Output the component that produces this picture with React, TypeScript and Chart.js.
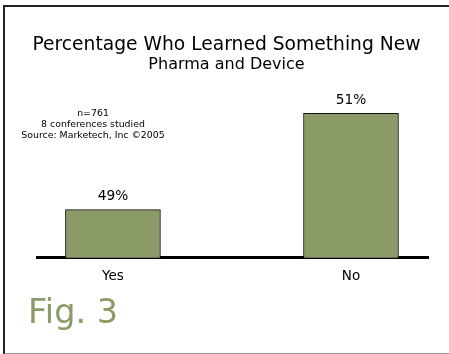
import React, { useEffect, useRef } from "react";
import { Chart, registerables } from "chart.js";

Chart.register(...registerables);

const categories = ["Yes", "No"];
const values = [49, 51];
const titleText = "Percentage Who Learned Something New";
const subtitleText = "Pharma and Device";
const noteLines = ["n=761", "8 conferences studied", "Source: Marketech, Inc \u00A92005"];
const figLabel = "Fig. 3";

const FONT = "'DejaVu Sans', Verdana, sans-serif";
const BAR_COLOR = "#8b9b67";

export default function App() {
  const ref = useRef<HTMLCanvasElement | null>(null);

  useEffect(() => {
    const canvas = ref.current;
    if (!canvas) return;

    const labelPlugin = {
      id: "valueLabels",
      afterDatasetsDraw(chart: any) {
        const ctx = chart.ctx;
        const meta = chart.getDatasetMeta(0);
        ctx.save();
        ctx.font = `13.7px ${FONT}`;
        ctx.fillStyle = "#000";
        ctx.textAlign = "center";
        ctx.textBaseline = "middle";
        meta.data.forEach((el: any, i: number) => {
          ctx.fillText(`${values[i]}%`, el.x, el.y - 13);
        });
        ctx.restore();
      },
    };

    const notePlugin = {
      id: "note",
      afterDraw(chart: any) {
        const ctx = chart.ctx;
        ctx.save();
        ctx.font = `9.4px ${FONT}`;
        ctx.fillStyle = "#000";
        ctx.textAlign = "center";
        ctx.textBaseline = "middle";
        noteLines.forEach((t, i) => ctx.fillText(t, 93, 113.5 + i * 11));
        ctx.restore();
      },
    };

    const chart = new Chart(canvas, {
      type: "bar",
      data: {
        datasets: [
          {
            data: categories.map((c, i) => ({ x: i, y: values[i] })),
            backgroundColor: BAR_COLOR,
            borderColor: "#111",
            borderWidth: 1,
            barThickness: 95,
          } as any,
        ],
      },
      options: {
        animation: false,
        responsive: false,
        maintainAspectRatio: false,
        layout: { padding: { left: 25, right: 21, top: 0, bottom: 4 } },
        plugins: {
          legend: { display: false },
          tooltip: { enabled: false },
          title: {
            display: true,
            text: titleText,
            color: "#000",
            font: { family: FONT, size: 18.7, weight: "normal" },
            padding: { top: 34, bottom: 0 },
          },
          subtitle: {
            display: true,
            text: subtitleText,
            color: "#000",
            font: { family: FONT, size: 16, weight: "normal" },
            padding: { top: -1, bottom: 4 },
          },
        },
        scales: {
          x: {
            type: "linear",
            offset: false,
            min: -0.319,
            max: 1.3235,
            grid: { display: false, drawTicks: false, offset: false },
            border: { display: true, color: "#000", width: 3 },
            ticks: {
              stepSize: 1,
              padding: 11,
              color: "#000",
              font: { family: FONT, size: 13.5 },
              autoSkip: false,
              maxRotation: 0,
              callback: (v: any) => {
                const n = Number(v);
                return Number.isInteger(n) && categories[n] !== undefined ? categories[n] : "";
              },
            },
          },
          y: {
            display: true,
            min: 48,
            max: 51.72,
            grid: { display: false, drawTicks: false },
            border: { display: false },
            ticks: { display: false },
            afterFit: (s: any) => {
              s.width = 12;
            },
          },
        },
      } as any,
      plugins: [labelPlugin, notePlugin],
    });
    return () => chart.destroy();
  }, []);

  return (
    <div style={{ position: "fixed", left: 0, top: 0, width: 449, height: 354, background: "#fff", overflow: "hidden" }}>
      <div
        style={{
          position: "absolute",
          left: 3,
          top: 5,
          width: 460,
          height: 346,
          borderTop: "2px solid #222",
          borderLeft: "2px solid #222",
          borderBottom: "2px solid #999",
        }}
      />
      <canvas ref={ref} width={449} height={300} style={{ position: "absolute", left: 0, top: 0, width: 449, height: 300 }} />
      <div
        style={{
          position: "absolute",
          left: 28,
          top: 292,
          fontFamily: FONT,
          fontSize: 33.5,
          lineHeight: "40px",
          color: BAR_COLOR,
        }}
      >
        {figLabel}
      </div>
    </div>
  );
}
